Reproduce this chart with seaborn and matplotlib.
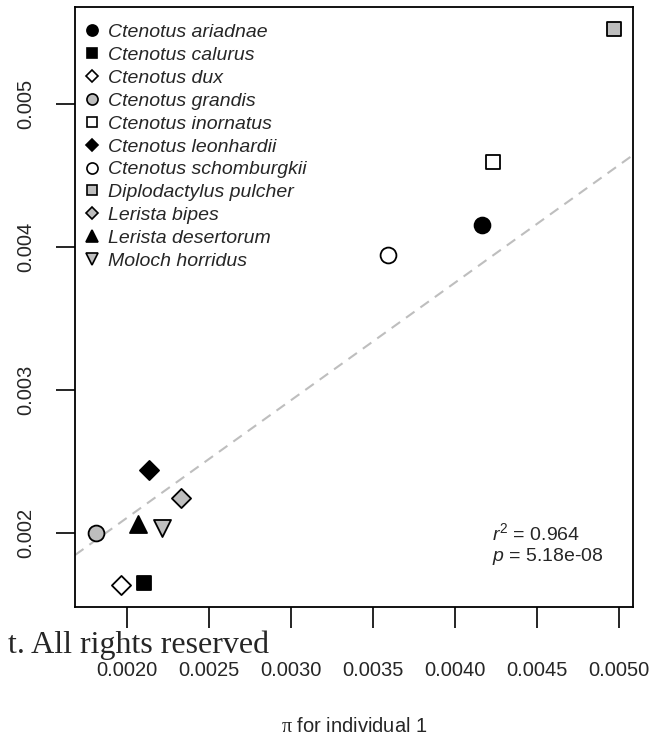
import matplotlib
matplotlib.use("Agg")
import matplotlib.pyplot as plt
from matplotlib.lines import Line2D
import pandas as pd
import seaborn as sns

# Values
species = ["Ctenotus ariadnae", "Ctenotus calurus", "Ctenotus dux", "Ctenotus grandis",
           "Ctenotus inornatus", "Ctenotus leonhardii", "Ctenotus schomburgkii",
           "Diplodactylus pulcher", "Lerista bipes", "Lerista desertorum", "Moloch horridus"]
pi_ind1 = [0.004165, 0.002105, 0.001965, 0.001811, 0.004232, 0.002136, 0.003591,
           0.004967, 0.002331, 0.002071, 0.002217]
pi_ind2 = [0.004154, 0.001648, 0.001636, 0.001998, 0.004592, 0.002441, 0.003944,
           0.005524, 0.002243, 0.002063, 0.002033]
markers = ["o", "s", "D", "o", "s", "D", "o", "s", "D", "^", "v"]
fills = ["black", "black", "white", "#BEBEBE", "white", "black", "white",
         "#BEBEBE", "#BEBEBE", "black", "#BEBEBE"]

# regression line (abline)
fit_intercept = 0.000460
fit_slope = 0.8226
r2_text = "0.964"
p_text = "5.18e-08"

x_ticks = [0.0020, 0.0025, 0.0030, 0.0035, 0.0040, 0.0045, 0.0050]
y_ticks = [0.002, 0.003, 0.004, 0.005]

data = pd.DataFrame({"species": species, "x": pi_ind1, "y": pi_ind2})

sns.set_style("ticks")
plt.rcParams["font.family"] = ["Liberation Sans", "DejaVu Sans"]
plt.rcParams["mathtext.fontset"] = "custom"
plt.rcParams["mathtext.it"] = "Liberation Sans:italic"
plt.rcParams["mathtext.rm"] = "Liberation Serif"
plt.rcParams["mathtext.sf"] = "Liberation Sans"

fig = plt.figure(figsize=(6.54, 7.37), dpi=100)
ax = fig.add_axes([0.1147, 0.1768, 0.8532, 0.8137])

ax.axline((0, fit_intercept), slope=fit_slope, color="#BEBEBE", lw=1.5,
          dashes=(5, 3.5), zorder=1)

sizes = {"o": 130, "s": 105, "D": 95, "^": 150, "v": 150}
for i, sp in enumerate(species):
    sns.scatterplot(data=data[data.species == sp], x="x", y="y", ax=ax,
                    marker=markers[i], color=fills[i], edgecolor="black",
                    linewidth=1.3, s=sizes[markers[i]], zorder=3, legend=False)

ax.set_xlim(0.001685, 0.005085)
ax.set_ylim(0.001485, 0.005678)
ax.set_xticks(x_ticks)
ax.set_xticklabels([f"{t:.4f}" for t in x_ticks])
ax.set_yticks(y_ticks)
ax.set_yticklabels([f"{t:.3f}" for t in y_ticks], rotation=90, va="center")
ax.tick_params(axis="x", length=15, width=1.2, pad=24, labelsize=14.5, color="black")
ax.tick_params(axis="y", length=13.5, width=1.2, pad=15, labelsize=14.5, color="black")
for s in ax.spines.values():
    s.set_visible(True)
    s.set_linewidth(1.3)
    s.set_color("black")

ax.set_xlabel(r"$\mathrm{\pi}$ for individual 1", fontsize=14.5)
ax.xaxis.set_label_coords(0.5, -0.184)
ax.set_ylabel("")

handles = [Line2D([], [], marker=markers[i], color="none", markerfacecolor=fills[i],
                  markeredgecolor="black", markeredgewidth=1.2,
                  markersize={"o": 8, "s": 7, "D": 6.5, "^": 8.5, "v": 8.5}[markers[i]])
           for i in range(len(species))]
ax.legend(handles, species, loc="upper left", frameon=False,
          prop={"style": "italic", "size": 14}, handlelength=0.8,
          handletextpad=0.45, labelspacing=0.27, borderaxespad=0.3,
          bbox_to_anchor=(-0.008, 0.995))

ax.text(0.747, 0.123, r"$\mathit{r}^{\mathsf{2}}$ = " + r2_text, transform=ax.transAxes,
        fontsize=14, va="center", ha="left")
ax.text(0.747, 0.083, r"$\mathit{p}$ = " + p_text, transform=ax.transAxes,
        fontsize=14, va="center", ha="left")

# watermark text overlapping the figure
fig.text(0.411, 0.114, "t. All rights reserved", family="Liberation Serif",
         fontsize=23, ha="right", va="baseline")

fig.savefig("out.png", dpi=100)
